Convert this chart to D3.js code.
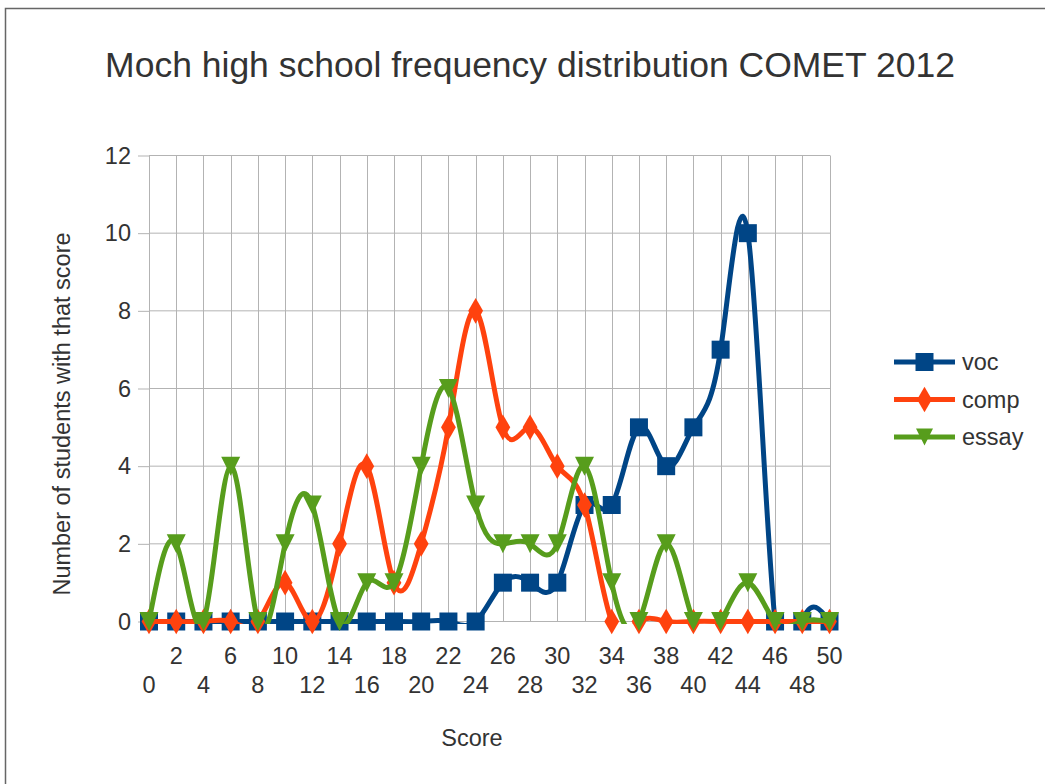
<!DOCTYPE html>
<html>
<head>
<meta charset="utf-8">
<script src="https://cdn.jsdelivr.net/npm/d3@7"></script>
<style>
  body { margin: 0; background: #fff; }
  text { font-family: "Liberation Sans", Arial, sans-serif; fill: #333; }
</style>
</head>
<body>
<div id="chart"></div>
<script>
// scores on the x axis (categories)
var scores = d3.range(0, 51, 2);
var yTicks = [0, 2, 4, 6, 8, 10, 12];

var seriesNames = ["voc", "comp", "essay"];
var vocValues   = [0,0,0,0,0,0,0,0,0,0,0,0,0,1,1,1,3,3,5,4,5,7,10,0,0,0];
var compValues  = [0,0,0,0,0,1,0,2,4,1,2,5,8,5,5,4,3,0,0,0,0,0,0,0,0,0];
var essayValues = [0,2,0,4,0,2,3,0,1,1,4,6,3,2,2,2,4,1,0,2,0,0,1,0,0,0];

var colors = { voc: "#004586", comp: "#ff420e", essay: "#579d1c" };
var markers = { voc: d3.symbolSquare, comp: d3.symbolDiamond, essay: "triDown" };

var svgWidth = 1045, svgHeight = 784;
var plotW = 680.5, plotH = 466;

var svg = d3.select("#chart")
  .append("svg")
  .attr("width", svgWidth)
  .attr("height", svgHeight);

// outer frame (only top and left edges are visible)
svg.append("rect")
  .attr("x", 5.5).attr("y", 8.5)
  .attr("width", 1100).attr("height", 900)
  .attr("fill", "none")
  .attr("stroke", "#666")
  .attr("stroke-width", 1.5);

var xScale = d3.scalePoint()
  .domain(scores)
  .range([149, 149 + plotW]);

var yScale = d3.scaleLinear()
  .domain([0, 12])
  .range([155.5 + plotH, 155.5]);

// lines are cut off below the zero line, like the original
svg.append("defs").append("clipPath")
  .attr("id", "plotClip")
  .append("rect")
  .attr("x", 100)
  .attr("y", yScale(12) - 40)
  .attr("width", 780)
  .attr("height", yScale(0) - yScale(12) + 40 + 2.5);

// grid
var grid = svg.append("g");
grid.selectAll(".vgrid")
  .data(scores)
  .enter()
  .append("line")
  .attr("x1", d => Math.round(xScale(d)) + 0.5)
  .attr("x2", d => Math.round(xScale(d)) + 0.5)
  .attr("y1", yScale(12))
  .attr("y2", yScale(0))
  .attr("stroke", "#b3b3b3");

var leftAxis = d3.axisLeft(yScale)
  .tickValues(yTicks)
  .tickSize(11)
  .tickPadding(7);

var yAxis = svg.append("g")
  .attr("transform", "translate(149,0)")
  .call(leftAxis);
yAxis.select(".domain").remove();
yAxis.selectAll(".tick line").attr("stroke", "#b3b3b3");
yAxis.selectAll(".tick text")
  .style("font-size", "23.5px")
  .attr("fill", "#333");

grid.selectAll(".hgrid")
  .data(yTicks)
  .enter()
  .append("line")
  .attr("x1", 149)
  .attr("x2", 830)
  .attr("y1", d => yScale(d))
  .attr("y2", d => yScale(d))
  .attr("stroke", "#b3b3b3");

// x tick labels in two staggered rows
svg.append("g").selectAll("text")
  .data(scores)
  .enter()
  .append("text")
  .attr("x", d => xScale(d))
  .attr("y", (d, i) => i % 2 === 0 ? 693 : 664)
  .attr("text-anchor", "middle")
  .style("font-size", "23.5px")
  .text(d => d);

function markerPath(type, size) {
  if (type === "triDown") {
    var h = size / 2;
    return "M" + (-h) + "," + (-h) + "L" + h + "," + (-h) + "L0," + h + "Z";
  }
  return d3.symbol().type(type).size(type === d3.symbolDiamond ? 190 : 324)();
}

var line = d3.line()
  .x((d, i) => xScale(scores[i]))
  .y(d => yScale(d))
  .curve(d3.curveNatural);

var allValues = { voc: vocValues, comp: compValues, essay: essayValues };

seriesNames.forEach(function (name) {
  var vals = allValues[name];
  var g = svg.append("g");
  g.append("path")
    .datum(vals)
    .attr("d", line)
    .attr("clip-path", "url(#plotClip)")
    .attr("fill", "none")
    .attr("stroke", colors[name])
    .attr("stroke-width", 5)
    .attr("stroke-linejoin", "round");
  g.selectAll("path.mk")
    .data(vals)
    .enter()
    .append("path")
    .attr("class", "mk")
    .attr("transform", (d, i) => `translate(${xScale(scores[i])}, ${yScale(d)})`)
    .attr("d", markerPath(markers[name], 19))
    .attr("fill", colors[name]);
});

// legend
var legend = svg.append("g");
seriesNames.forEach(function (name, i) {
  var y = 362 + i * 37.5;
  legend.append("line")
    .attr("x1", 894).attr("x2", 955)
    .attr("y1", y).attr("y2", y)
    .attr("stroke", colors[name])
    .attr("stroke-width", 5);
  legend.append("path")
    .attr("transform", `translate(924.5, ${y})`)
    .attr("d", markerPath(markers[name], 17))
    .attr("fill", colors[name]);
  legend.append("text")
    .attr("x", 962)
    .attr("y", y + 8)
    .style("font-size", "23.5px")
    .text(name);
});

// titles
svg.append("text")
  .attr("x", 530)
  .attr("y", 77)
  .attr("text-anchor", "middle")
  .style("font-size", "35.5px")
  .text("Moch high school frequency distribution COMET 2012");

svg.append("text")
  .attr("transform", "rotate(-90)")
  .attr("x", -414)
  .attr("y", 70)
  .attr("text-anchor", "middle")
  .style("font-size", "23.5px")
  .text("Number of students with that score");

svg.append("text")
  .attr("x", 472)
  .attr("y", 746)
  .attr("text-anchor", "middle")
  .style("font-size", "23.5px")
  .text("Score");
</script>
</body>
</html>
